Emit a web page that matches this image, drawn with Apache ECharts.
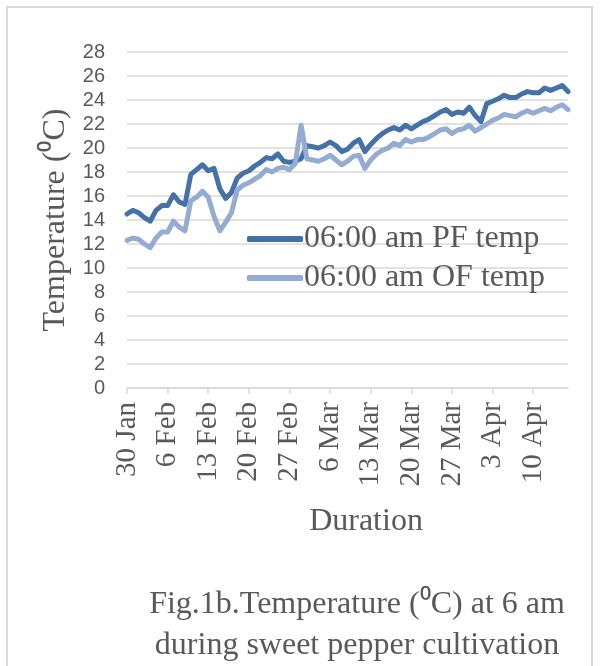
<!DOCTYPE html>
<html>
<head>
<meta charset="utf-8">
<script src="https://cdn.jsdelivr.net/npm/echarts@6/dist/echarts.min.js"></script>
<style>
html,body{margin:0;padding:0;background:#fff;}
#chart{width:600px;height:666px;}
</style>
</head>
<body>
<div id="chart"></div>
<script>
var dates = ['30 Jan','31 Jan',
'1 Feb','2 Feb','3 Feb','4 Feb','5 Feb','6 Feb','7 Feb','8 Feb','9 Feb','10 Feb','11 Feb','12 Feb','13 Feb','14 Feb',
'15 Feb','16 Feb','17 Feb','18 Feb','19 Feb','20 Feb','21 Feb','22 Feb','23 Feb','24 Feb','25 Feb','26 Feb','27 Feb','28 Feb',
'1 Mar','2 Mar','3 Mar','4 Mar','5 Mar','6 Mar','7 Mar','8 Mar','9 Mar','10 Mar','11 Mar','12 Mar','13 Mar','14 Mar','15 Mar',
'16 Mar','17 Mar','18 Mar','19 Mar','20 Mar','21 Mar','22 Mar','23 Mar','24 Mar','25 Mar','26 Mar','27 Mar','28 Mar','29 Mar',
'30 Mar','31 Mar',
'1 Apr','2 Apr','3 Apr','4 Apr','5 Apr','6 Apr','7 Apr','8 Apr','9 Apr','10 Apr','11 Apr','12 Apr','13 Apr','14 Apr','15 Apr','16 Apr'];

var pfTemp = [14.5,14.8,14.6,14.2,13.9,14.8,15.2,15.2,16.1,15.5,15.3,17.8,18.2,18.6,18.1,18.3,16.6,15.8,16.3,17.5,
17.9,18.1,18.5,18.8,19.2,19.1,19.5,18.9,18.8,18.9,19.1,20.2,20.1,20.0,20.2,20.5,20.2,19.7,19.9,20.4,
20.7,19.7,20.3,20.8,21.2,21.5,21.7,21.5,21.9,21.6,21.9,22.2,22.4,22.7,23.0,23.2,22.8,23.0,22.9,23.4,
22.7,22.2,23.7,23.9,24.1,24.4,24.2,24.2,24.5,24.7,24.6,24.6,25.0,24.8,25.0,25.2,24.7];

var ofTemp = [12.3,12.5,12.4,12.0,11.7,12.5,13.0,13.0,13.9,13.4,13.1,15.6,15.9,16.4,15.9,14.3,13.1,13.8,14.6,16.5,
16.9,17.1,17.4,17.7,18.2,18.0,18.3,18.4,18.2,18.7,21.9,19.1,19.0,18.9,19.1,19.4,19.0,18.6,18.9,19.3,
19.4,18.3,19.0,19.5,19.8,20.0,20.4,20.2,20.7,20.5,20.7,20.7,20.9,21.2,21.5,21.6,21.2,21.5,21.6,21.9,
21.4,21.7,22.0,22.3,22.5,22.8,22.7,22.6,22.9,23.1,22.9,23.1,23.3,23.1,23.4,23.6,23.2];

var seriesNames = ['06:00 am PF temp','06:00 am OF temp'];
var yTitle = 'Temperature (\u2070C)';
var xTitle = 'Duration';
var caption1 = 'Fig.1b.Temperature (\u2070C) at 6 am';
var caption2 = 'during sweet pepper cultivation';

var chart = echarts.init(document.getElementById('chart'), null, {renderer:'canvas'});
var serif = '"Liberation Serif", "Times New Roman", serif';
var gray = '#595959';
var option = {
  backgroundColor:'#ffffff',
  animation:false,
  grid:{left:127, right:32, top:52, bottom:278},
  legend:{
    orient:'vertical',
    left:242, top:218,
    itemWidth:56, itemHeight:6, itemGap:7,
    icon:'roundRect',
    textStyle:{fontFamily:serif, fontSize:32, color:gray, padding:[0,0,0,-4]},
    data:seriesNames
  },
  xAxis:{
    type:'category',
    data:dates,
    boundaryGap:false,
    axisLine:{lineStyle:{color:'#d9d9d9', width:1.5}},
    axisTick:{show:true, interval:6, length:6, lineStyle:{color:'#d9d9d9', width:1.5}},
    axisLabel:{interval:6, rotate:90, margin:14, fontFamily:serif, fontSize:29, color:gray},
    splitLine:{show:false}
  },
  yAxis:{
    type:'value', min:0, max:28, interval:2,
    axisLine:{show:false}, axisTick:{show:false},
    axisLabel:{fontFamily:'"Liberation Sans", Arial, sans-serif', fontSize:20, color:gray, margin:22},
    splitLine:{lineStyle:{color:'#d9d9d9', width:1.5}},
    name:yTitle, nameLocation:'middle', nameGap:51,
    nameTextStyle:{fontFamily:serif, fontSize:32, color:gray}
  },
  series:[
    {name:seriesNames[0], type:'line', data:pfTemp, symbol:'none', smooth:false,
     lineStyle:{color:'#4472a8', width:5, cap:'round', join:'round'}, itemStyle:{color:'#4472a8'}},
    {name:seriesNames[1], type:'line', data:ofTemp, symbol:'none', smooth:false,
     lineStyle:{color:'#94acd2', width:5, cap:'round', join:'round'}, itemStyle:{color:'#94acd2'}}
  ],
  graphic:[
    {type:'rect', shape:{x:7, y:7, width:585, height:680}, style:{fill:'none', stroke:'#d9d9d9', lineWidth:2}, silent:true},
    {type:'text', x:366, y:522, style:{text:xTitle, fontFamily:serif, fontSize:32, fill:gray, textAlign:'center', textVerticalAlign:'middle'}},
    {type:'text', x:357, y:605, style:{text:caption1, fontFamily:serif, fontSize:32, fill:gray, textAlign:'center', textVerticalAlign:'middle'}},
    {type:'text', x:357, y:646, style:{text:caption2, fontFamily:serif, fontSize:32, fill:gray, textAlign:'center', textVerticalAlign:'middle'}}
  ]
};
chart.setOption(option);
</script>
</body>
</html>
